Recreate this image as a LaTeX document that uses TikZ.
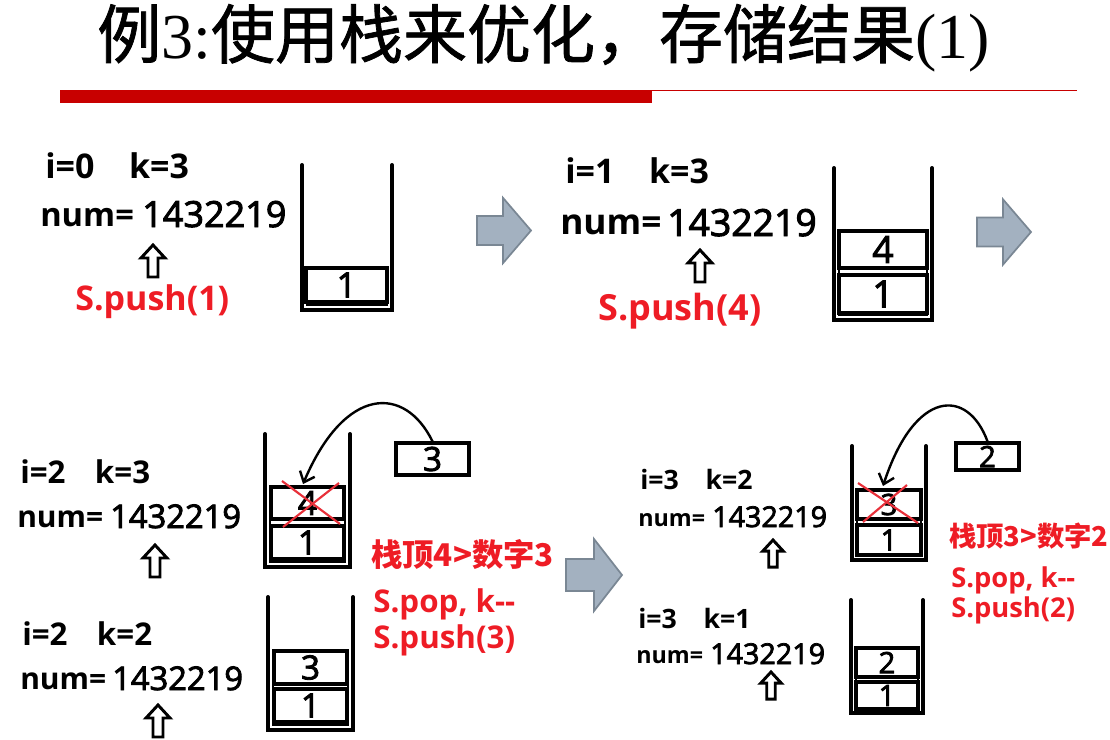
\documentclass[tikz,border=0pt]{standalone}
\usepackage{fontspec}
\setmainfont{Open Sans}
\newfontfamily\cjk{Noto Sans CJK SC}
\newfontfamily\cjktitle{Noto Sans CJK SC}[FakeBold=1.2]
\newfontfamily\tms{Liberation Serif}
\newfontfamily\digf{Open Sans}[FakeBold=2.6]
\usetikzlibrary{arrows.meta}
\definecolor{redtxt}{HTML}{EE1C25}
\definecolor{barred}{HTML}{C80000}
\definecolor{gfill}{HTML}{A3B1C0}
\definecolor{gdraw}{HTML}{7A8794}
\definecolor{xred}{HTML}{E8303A}
\newcommand\fs[1]{\fontsize{#1}{#1}\selectfont}
\newcommand\stk[5]{%
  \draw[wall] (#1,#3) -- (#1,#4) -- (#2,#4) -- (#2,#3);
  \draw[innerw] (#1+5,#5) -- (#1+5,#4-5) -- (#2-5,#4-5) -- (#2-5,#5);}
\newcommand\bx[7]{%
  \node[sbox, minimum width={(#4-#2)*0.75pt}, minimum height={(#5-#3)*0.75pt}, font=\digf\fs{#7}] (#1) at ({(#2+#4)/2},{(#3+#5)/2}) {#6};}
\newcommand\garr[5]{% tail neck tip cy bodyhalf
  \draw[garrow] (#1,#4-#5) -- (#2,#4-#5) -- (#2,#4-#5*2.25) -- (#3,#4) -- (#2,#4+#5*2.25) -- (#2,#4+#5) -- (#1,#4+#5) -- cycle;}
\tikzset{
  wall/.style={line width=3pt, line join=miter, line cap=round},
  innerw/.style={line width=1.1pt},
  sbox/.style={draw, line width=2.4pt, inner sep=0pt, fill=white},
  txt/.style={anchor=base west, inner sep=0pt},
  digt/.style={anchor=base west, inner sep=0pt},
  redt/.style={txt, text=redtxt, font=\bfseries},
  garrow/.style={fill=gfill, draw=gdraw, line width=1.3pt, line join=miter},
  crossl/.style={draw=xred, line width=1.6pt},
  carrow/.style={line width=1.8pt, -{Straight Barb[length=7pt,width=12pt,line width=1.8pt]}},
  hup/.pic={\draw[line width=2.2pt, fill=white, line join=miter] (0,0) -- (12,13) -- (5,13) -- (5,32) -- (-5,32) -- (-5,13) -- (-12,13) -- cycle;}
}
\begin{document}
\begin{tikzpicture}[x=0.75pt, y=-0.75pt]
\useasboundingbox (0,0) rectangle (1110,739);
% title
\node[anchor=base west, inner sep=0pt, font=\fs{48}] (title) at (97,58) {\cjktitle 例\tms 3:\cjktitle 使用栈来优化，存储结果\tms (1)};
\fill[barred] (60,90) rectangle (652,103);
\draw[barred, line width=1.3pt] (60,90.5) -- (1077,90.5);

% ---------- panel 1
\node[txt, font=\bfseries\fs{25.5}] (ik1) at (45,178) {i=0\hspace{26pt}k=3};
\node[txt, font=\bfseries\fs{24.5}] (nm1) at (40,226) {num=};
\node[digt, font=\digf\fs{27}] (dg1) at (142,227) {1432219};
\pic at (153,245) {hup};
\node[redt, font=\bfseries\fs{25.5}] (r1) at (75,310) {S.push(1)};
\stk{302}{392}{165}{310}{268}
\bx{p1a}{306}{268}{387}{302}{1}{26}

\garr{477}{503}{531}{230.5}{14.5}

% ---------- panel 2
\node[txt, font=\bfseries\fs{25.5}] (ik2) at (565,183) {i=1\hspace{26pt}k=3};
\node[txt, font=\bfseries\fs{26.5}] (nm2) at (560,234) {num=};
\node[digt, font=\digf\fs{28}] (dg2) at (667,236) {1432219};
\pic at (700,250) {hup};
\node[redt, font=\bfseries\fs{27}] (r2) at (598,320) {S.push(4)};
\stk{834}{932}{168}{320}{231}
\bx{p2b}{839}{231}{927}{268}{4}{28}
\bx{p2a}{839}{275}{927}{313}{1}{28}

\garr{977}{1003}{1031}{232}{14.5}

% ---------- panel 3
\node[txt, font=\bfseries\fs{23.5}] (ik3) at (20,483) {i=2\hspace{22pt}k=3};
\node[txt, font=\bfseries\fs{22.5}] (nm3) at (17,527) {num=};
\node[digt, font=\digf\fs{24.5}] (dg3) at (110,528) {1432219};
\pic at (155,545) {hup};
\stk{265}{350}{434}{567}{487}
\bx{p3b}{271}{487}{344}{519}{4}{25}
\bx{p3a}{271}{526}{344}{559}{1}{25}
\draw[crossl] (282,481) -- (340,524);
\draw[crossl] (339,483) -- (283,527);
\bx{t3}{396}{443}{469}{475}{3}{25}
\coordinate (e3) at (303,484);
\draw[carrow] (t3.north) .. controls (405,385) and (345,385) .. (e3);
\node[redt, font=\bfseries\fs{23.5}] (r3a) at (371,566) {\cjk\bfseries 栈顶4>数字3};
\node[redt, font=\bfseries\fs{23.5}] (r3b) at (373,612) {S.pop, k-{}-};
\node[redt, font=\bfseries\fs{23.5}] (r3c) at (373,648) {S.push(3)};

\node[txt, font=\bfseries\fs{23.5}] (ik4) at (22,645) {i=2\hspace{22pt}k=2};
\node[txt, font=\bfseries\fs{22.5}] (nm4) at (20,689) {num=};
\node[digt, font=\digf\fs{24.5}] (dg4) at (112,690) {1432219};
\pic at (158,705) {hup};
\stk{268}{353}{597}{730}{650}
\bx{p4b}{274}{651}{347}{684}{3}{25}
\bx{p4a}{274}{689}{347}{722}{1}{25}

\garr{566}{594}{622}{575}{16}

% ---------- panel 4
\node[txt, font=\bfseries\fs{20}] (ik5) at (640,489) {i=3\hspace{20pt}k=2};
\node[txt, font=\bfseries\fs{17.5}] (nm5) at (638,526) {num=};
\node[digt, font=\digf\fs{21.5}] (dg5) at (712,527) {1432219};
\pic[scale=0.85] at (773,540) {hup};
\stk{852}{926}{446}{560}{490}
\bx{p5b}{857}{490}{921}{519}{3}{22}
\bx{p5a}{857}{525}{921}{555}{1}{22}
\draw[crossl] (858,483) -- (918,523);
\draw[crossl] (907,485) -- (863,522);
\bx{t5}{956}{443}{1019}{470}{2}{22}
\coordinate (e5) at (883,486);
\draw[carrow] (t5.north) .. controls (968,388) and (915,388) .. (e5);
\node[redt, font=\bfseries\fs{20.5}] (r5a) at (949,546) {\cjk\bfseries 栈顶3>数字2};
\node[redt, font=\bfseries\fs{20.5}] (r5b) at (951,587) {S.pop, k-{}-};
\node[redt, font=\bfseries\fs{20.5}] (r5c) at (951,617) {S.push(2)};

\node[txt, font=\bfseries\fs{20}] (ik6) at (638,628) {i=3\hspace{20pt}k=1};
\node[txt, font=\bfseries\fs{17.5}] (nm6) at (636,663) {num=};
\node[digt, font=\digf\fs{21.5}] (dg6) at (710,664) {1432219};
\pic[scale=0.85] at (771,672) {hup};
\stk{851}{923}{600}{713}{647}
\bx{p6b}{856}{648}{918}{677}{2}{22}
\bx{p6a}{856}{682}{918}{709}{1}{22}
\end{tikzpicture}
\end{document}
